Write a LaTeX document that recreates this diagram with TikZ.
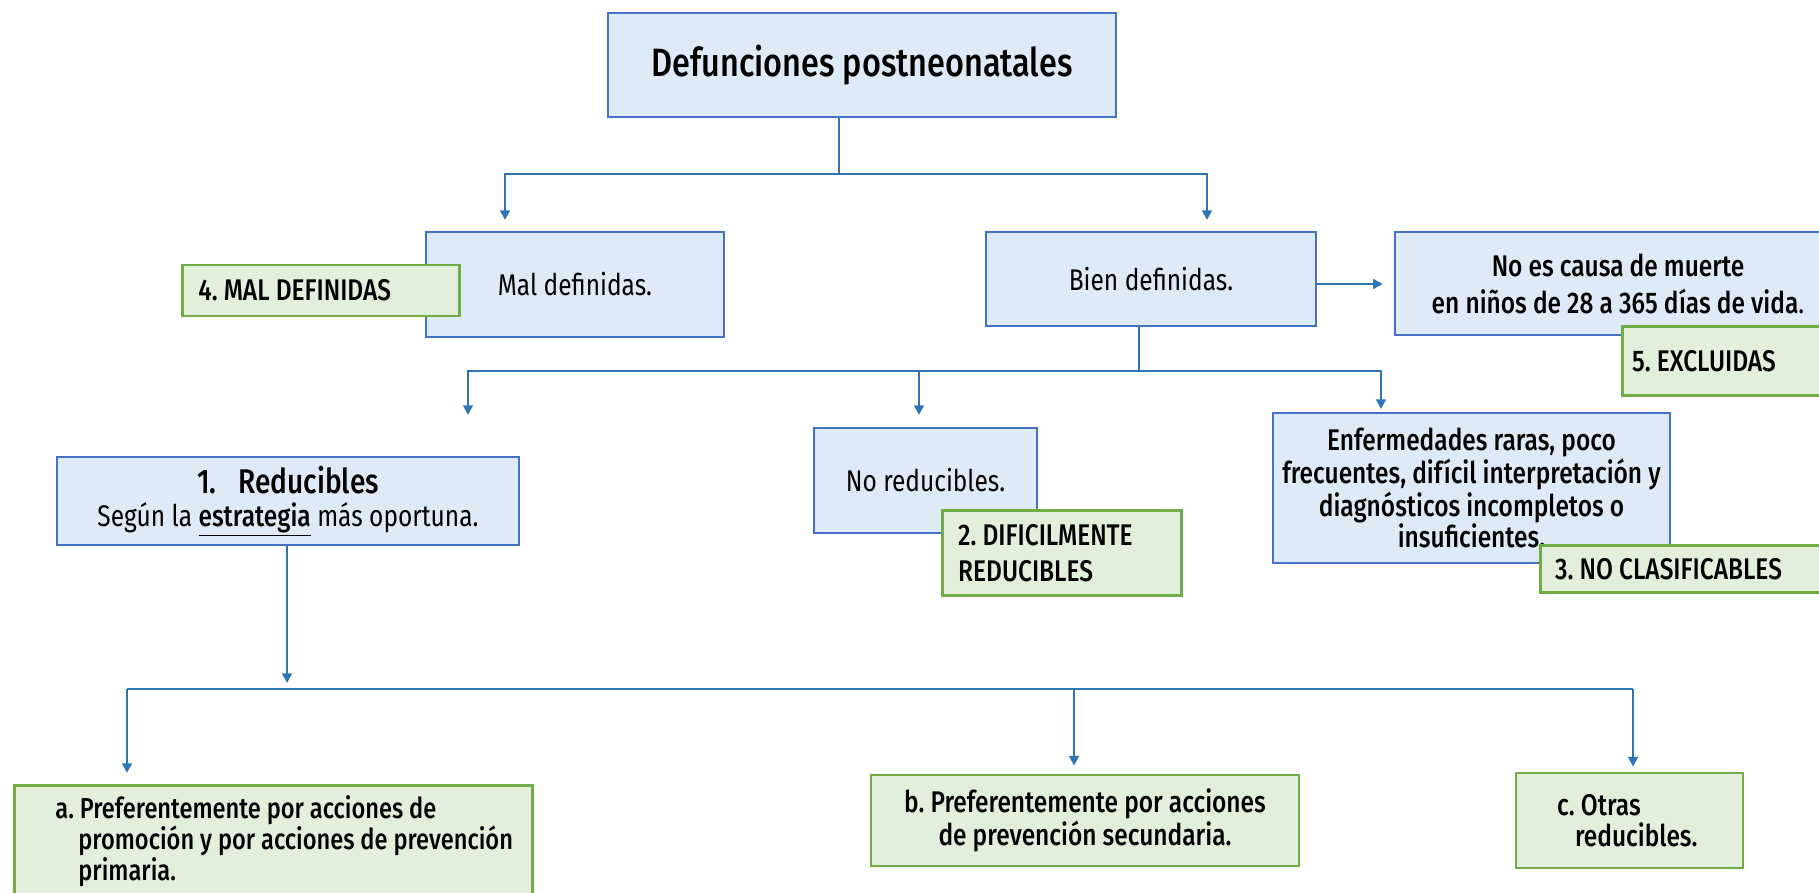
\documentclass[tikz,border=0pt]{standalone}
\usepackage{fontspec}
\setmainfont{Fira Sans}[FakeStretch=0.82,BoldFont={Fira Sans Medium}]
\usetikzlibrary{positioning,arrows.meta}
\frenchspacing

\definecolor{boxline}{HTML}{4472C4}
\definecolor{boxfill}{HTML}{DEEBF7}
\definecolor{tagline}{HTML}{70AD47}
\definecolor{tagfill}{HTML}{E2EFDA}
\definecolor{linkcol}{HTML}{2E75B6}

\tikzset{
  bluebox/.style={draw=boxline, fill=boxfill, line width=1.4pt, inner sep=0pt,
    align=center, font=\fontsize{17}{17.6}\selectfont},
  tagbox/.style={draw=tagline, fill=tagfill, line width=1.6pt, inner xsep=0.32cm,
    inner ysep=0pt, align=flush left, font=\bfseries\fontsize{17}{17.6}\selectfont},
  link/.style={draw=linkcol, line width=1.3pt},
  linkarrow/.style={link, -{Triangle[length=5.5pt,width=5.5pt]}},
}

\begin{document}
\begin{tikzpicture}
\useasboundingbox (0,0) rectangle (36.38,-17.84);
\clip (0,0) rectangle (36.38,-17.84);

% Top of the tree
\node[bluebox, minimum width=10.16cm, minimum height=2.08cm,
  font=\bfseries\fontsize{22.5}{26}\selectfont] (defun) at (17.24,-1.30) {Defunciones postneonatales};

% First split
\node[bluebox, minimum width=5.96cm, minimum height=2.10cm] (mal) at (11.50,-5.69) {Mal definidas.};
\node[tagbox, text width=4.90cm, minimum height=1.02cm, left=-0.72cm of mal.west, yshift=-0.12cm] (tagmal) {4. MAL DEFINIDAS};

\node[bluebox, minimum width=6.60cm, minimum height=1.88cm] (bien) at (23.02,-5.58) {Bien definidas.};
\node[bluebox, minimum width=8.92cm, minimum height=2.06cm,
  font=\bfseries\fontsize{17}{21}\selectfont] (nocausa) at (32.36,-5.67) {No es causa de muerte\\en niños de 28 a 365 días de vida{\mdseries.}};
\node[tagbox, text width=4.2cm, minimum height=1.38cm, inner xsep=0.2cm,
  anchor=north west, xshift=4.54cm, yshift=0.22cm] (tagexcl) at (nocausa.south west) {5. EXCLUIDAS};

% Second split
\node[bluebox, minimum width=9.24cm, minimum height=1.76cm, font=\fontsize{17}{18.8}\selectfont] (reduc) at (5.76,-10.02)
  {{\bfseries\fontsize{19.5}{18.8}\selectfont 1.\hspace{0.44cm}Reducibles}\\Según la \underline{\textbf{estrategia}} más oportuna.};

\node[bluebox, minimum width=4.46cm, minimum height=2.10cm] (noreduc) at (18.51,-9.61) {No reducibles.};
\node[tagbox, text width=4.14cm, minimum height=1.70cm, font=\bfseries\fontsize{17}{20}\selectfont,
  anchor=north west, xshift=2.56cm, yshift=0.50cm] (tagdif) at (noreduc.south west) {2. DIFICILMENTE\\REDUCIBLES};

\node[bluebox, minimum width=7.94cm, minimum height=3.00cm, font=\bfseries\fontsize{17}{17.6}\selectfont] (enferm) at (29.43,-9.76)
  {Enfermedades raras, poco\\frecuentes, difícil interpretación y\\diagnósticos incompletos o\\insuficientes.};
\node[tagbox, text width=5.6cm, minimum height=0.94cm, inner xsep=0.3cm,
  anchor=north west, xshift=5.34cm, yshift=0.40cm] (tagnoclas) at (enferm.south west) {3. NO CLASIFICABLES};

% Reducibles by strategy
\node[tagbox, anchor=north west, text width=9.96cm, inner xsep=0.2cm, inner ysep=0.2cm,
  font=\bfseries\fontsize{16.4}{17.6}\selectfont] (acca) at (0.26,-15.68)
  {\hspace*{0.62cm}\mbox{a. Preferentemente por acciones de}\\
   \hspace*{1.08cm}\mbox{promoción y por acciones de prevención}\\
   \hspace*{1.08cm}\mbox{primaria.}};
\node[tagbox, align=center, minimum width=8.56cm, minimum height=1.82cm] (accb) at (21.70,-16.41)
  {b. Preferentemente por acciones\\de prevención secundaria.};
\node[tagbox, text width=2.90cm, inner xsep=0.82cm, minimum height=1.90cm] (accc) at (32.59,-16.41)
  {c. Otras\\\hspace*{0.36cm}reducibles.};

% Connectors
\coordinate (fork1) at (16.78,-3.48);
\coordinate (malin) at (10.10,-4.40);
\coordinate (bienin) at (24.14,-4.40);
\draw[link] (defun.south -| fork1) -- (fork1);
\draw[linkarrow] (fork1) -| (malin);
\draw[linkarrow] (fork1) -| (bienin);

\draw[linkarrow, shorten >=0.22cm] ([yshift=-0.1cm]bien.east) -- ([yshift=-0.1cm]bien.east -| nocausa.west);

\coordinate (fork2) at (22.78,-7.42);
\coordinate (reducin) at (9.36,-8.30);
\coordinate (noredin) at (18.38,-8.30);
\coordinate (enfin) at (27.62,-8.18);
\draw[link] (bien.south -| fork2) -- (fork2);
\draw[linkarrow] (fork2) -| (reducin);
\draw[linkarrow] (fork2) -| (noredin);
\draw[linkarrow] (fork2) -| (enfin);

\coordinate (fork3) at (5.74,-13.66);
\coordinate (barL) at (2.54,-13.78);
\coordinate (barM) at (21.48,-13.78);
\coordinate (barR) at (32.66,-13.78);
\draw[linkarrow] (reduc.south -| fork3) -- (fork3);
\draw[link] (barL) -- (barR);
\draw[linkarrow, shorten >=0.22cm] (barL) -- (barL |- acca.north);
\draw[linkarrow, shorten >=0.16cm] (barM) -- (barM |- accb.north);
\draw[linkarrow, shorten >=0.10cm] (barR) -- (barR |- accc.north);
\end{tikzpicture}
\end{document}
